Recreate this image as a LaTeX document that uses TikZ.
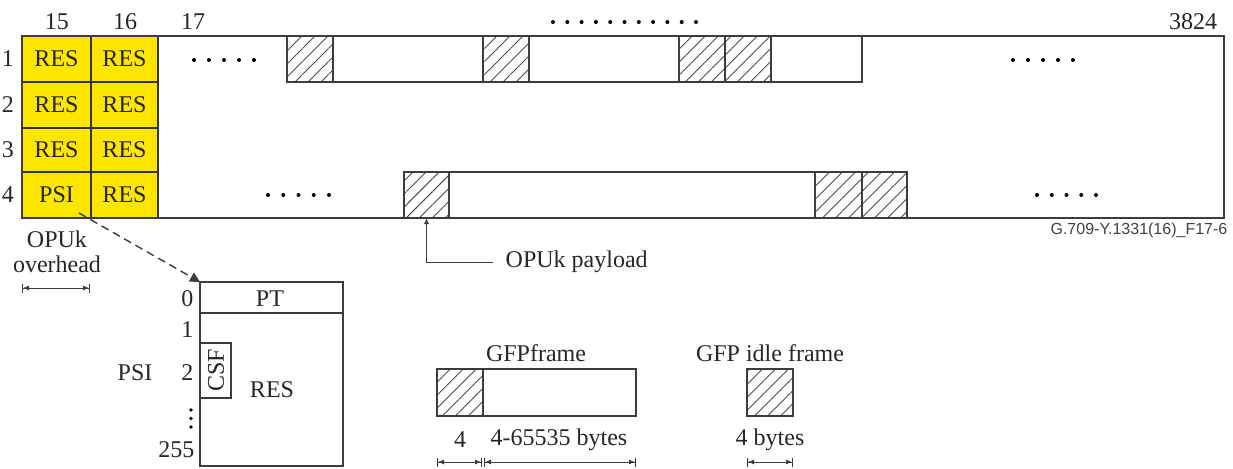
\documentclass[tikz,border=0pt]{standalone}
\usepackage{fontspec}
\setmainfont{Liberation Serif}
\newfontfamily\labelfont{Liberation Sans}
\usepackage{xcolor}
\usetikzlibrary{patterns.meta, arrows.meta}

\definecolor{opuyellow}{RGB}{255,230,0}
\definecolor{linegray}{RGB}{60,60,60}

\tikzset{
  txt/.style={inner sep=1pt, text=black!85, font=\fontsize{12}{14}\selectfont},
  hatch/.style={draw=linegray, pattern={Lines[angle=45,distance=4.6pt,line width=0.45pt]}, pattern color=black!70},
  dimline/.style={draw=linegray, line width=0.5pt,
    {Bar[width=4.5pt]Latex[length=3pt,width=2.6pt]}-{Latex[length=3pt,width=2.6pt]Bar[width=4.5pt]}},
}

\begin{document}
\begin{tikzpicture}[x=0.5pt, y=-0.5pt, line width=0.7pt, draw=linegray]
            \useasboundingbox (0,0) rectangle (1233,468);

            % colunas de overhead
            \filldraw[fill=opuyellow, draw=black!80] (22,36) rectangle (158,218);
            \draw[black!80] (91,36) -- (91,218);
            \draw[black!80] (22,82) -- (158,82);
            \draw[black!80] (22,128) -- (158,128);
            \draw[black!80] (22,172) -- (158,172);

            % quadro principal
            \draw (22,36) rectangle (1224,218);
            \draw (287,82) -- (862,82) -- (862,36);
            \draw (404,218) -- (404,172) -- (907,172) -- (907,218);

            % quadros hachurados
            \draw[hatch] (287,36) rectangle (333,82);
            \draw[hatch] (483,36) rectangle (529,82);
            \draw[hatch] (679,36) rectangle (725,82);
            \draw[hatch] (725,36) rectangle (771,82);
            \draw[hatch] (404,172) rectangle (449,218);
            \draw[hatch] (815,172) rectangle (862,218);
            \draw[hatch] (862,172) rectangle (907,218);
            \coordinate (gfpfirst) at (426.5,218);

            % rotulos das celulas
            \foreach \r/\y/\a in {1/59/RES, 2/105/RES, 3/150/RES, 4/195/PSI} {
                \node[txt] (row\r) at (8,\y) {\r};
                \node[txt] (c15r\r) at (56.5,\y) {\a};
                \node[txt] (c16r\r) at (124.5,\y) {RES};
            }
            \node[txt] (col15) at (57,22) {15};
            \node[txt] (col16) at (125,22) {16};
            \node[txt] (col17) at (193,22) {17};
            \node[txt] (col3824) at (1193,22) {3824};
            \node[font=\labelfont\fontsize{8}{9}\selectfont, text=black!75, anchor=east, inner sep=0pt]
                (figid) at (1228,230) {G.709-Y.1331(16)\_F17-6};

            % reticencias
            \foreach \x in {0,...,10}
                \fill[black] (553+14.3*\x,22) circle (2);
            \foreach \x in {0,...,4} {
                \fill[black] (194+15*\x,60) circle (2);
                \fill[black] (1013+15*\x,60) circle (2);
                \fill[black] (268+15.25*\x,195) circle (2);
                \fill[black] (1037+14.75*\x,195) circle (2);
            }

            % overhead e payload
            \node[txt] (ohtop) at (57,239) {OPUk};
            \node[txt] (ohbot) at (57,264) {overhead};
            \coordinate (ohleft) at (22,288);
            \coordinate (ohright) at (90,288);
            \draw[dimline] (ohleft) -- (ohright);

            \node[txt, anchor=west] (payload) at (503,262) {OPUk payload};
            \draw[line width=0.5pt, -{Latex[length=3pt,width=2.6pt]}] ([xshift=-5pt]payload.west) -| (gfpfirst);

            % detalhe do PSI
            \coordinate (psicorner) at (200,282);
            \draw[line width=0.7pt, dash pattern=on 4pt off 2.5pt, -{Triangle[length=5pt,width=5pt]}]
                (79,213) -- (psicorner);
            \draw (200,282) rectangle (343,466);
            \draw (200,313) -- (343,313);
            \draw (200,343) rectangle (231,398);
            \node[txt] (pt) at (270,299) {PT};
            \node[txt] (psires) at (272,390) {RES};
            \node[txt, rotate=90] (csf) at (216,370) {CSF};
            \node[txt] (psilbl) at (135,373) {PSI};
            \node[txt, anchor=east] (b0) at (196,299) {0};
            \node[txt, anchor=east] (b1) at (196,330) {1};
            \node[txt, anchor=east] (b2) at (196,373) {2};
            \node[txt, anchor=east] (b255) at (197,450) {255};
            \foreach \y in {410,418.5,427}
                \fill[black] (191,\y) circle (1.8);

            % quadro GFP
            \node[txt] (gfplbl) at (536,353) {GFPframe};
            \draw (437,369) rectangle (636,416);
            \draw[hatch] (437,369) rectangle (483,416);
            \node[txt] (gfphdr) at (460,440) {4};
            \node[txt] (gfpbody) at (559,440) {4-65535 bytes};
            \coordinate (gfpa) at (437,462);
            \coordinate (gfpb) at (482,462);
            \coordinate (gfpc) at (484,462);
            \coordinate (gfpd) at (636,462);
            \draw[dimline] (gfpa) -- (gfpb);
            \draw[dimline] (gfpc) -- (gfpd);

            % quadro GFP idle
            \node[txt] (idlelbl) at (770,353) {GFP idle frame};
            \draw[hatch] (747,369) rectangle (793,416);
            \node[txt] (idlebytes) at (770,440) {4 bytes};
            \coordinate (idlea) at (747,462);
            \coordinate (idleb) at (793,462);
            \draw[dimline] (idlea) -- (idleb);
\end{tikzpicture}
\end{document}
